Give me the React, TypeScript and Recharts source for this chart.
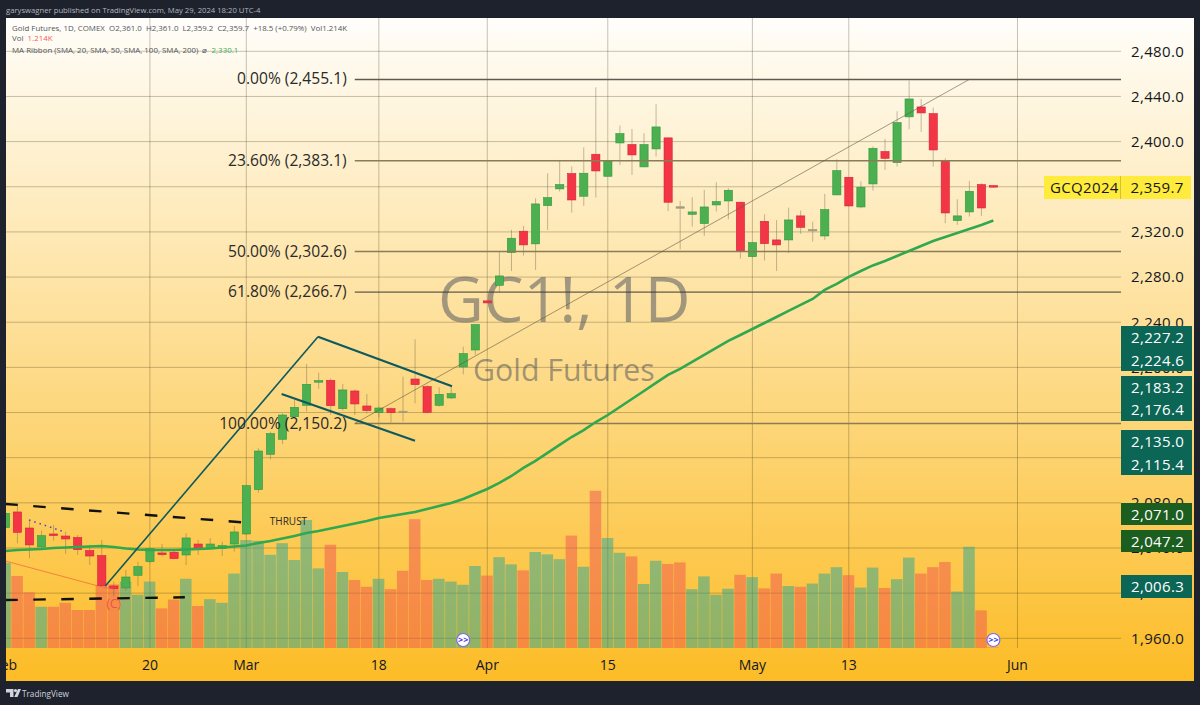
import { Bar, CartesianGrid, ComposedChart, Line, ReferenceDot, ReferenceLine, XAxis, YAxis } from 'recharts'

const opens = [
  2058.0, 2071.9, 2057.7, 2040.9, 2052.4, 2050.6, 2049.2, 2037.6, 2033.2, 2006.3,
  2004.6, 2015.8, 2027.9, 2035.6, 2036.2, 2033.8, 2043.5, 2040.6, 2039.7, 2043.5,
  2052.4, 2091.7, 2123.0, 2136.3, 2156.3, 2166.4, 2187.3, 2188.5, 2163.4, 2179.1,
  2165.8, 2159.9, 2163.4, 2161.2, 2189.7, 2182.9, 2166.4, 2172.9, 2200.4, 2215.4,
  2258.9, 2272.7, 2301.7, 2320.6, 2309.4, 2343.3, 2358.1, 2371.7, 2351.6, 2388.8,
  2369.3, 2398.8, 2397.4, 2377.6, 2393.5, 2403.3, 2342.3, 2335.6, 2327.4, 2343.9,
  2347.4, 2346.3, 2298.1, 2329.4, 2312.9, 2312.9, 2334.2, 2322.0, 2316.4, 2352.8,
  2368.4, 2342.1, 2362.5, 2391.2, 2381.4, 2421.9, 2430.7, 2424.8, 2382.9, 2330.0,
  2337.7, 2361.9, 2361.0,
]
const highs = [
  2079.6, 2079.6, 2064.8, 2055.3, 2060.4, 2054.5, 2051.5, 2042.7, 2047.1, 2010.2,
  2020.5, 2027.9, 2039.7, 2043.5, 2038.2, 2053.0, 2047.1, 2048.6, 2045.6, 2059.5,
  2095.8, 2128.3, 2143.0, 2159.3, 2171.1, 2203.0, 2195.3, 2190.3, 2185.3, 2180.6,
  2176.4, 2165.2, 2164.6, 2191.8, 2224.8, 2184.4, 2182.3, 2182.9, 2218.4, 2237.9,
  2259.0, 2302.6, 2321.8, 2325.3, 2349.8, 2372.0, 2383.8, 2377.9, 2395.0, 2448.1,
  2382.9, 2414.2, 2411.2, 2407.4, 2433.1, 2403.6, 2347.4, 2350.7, 2357.2, 2364.0,
  2358.7, 2346.6, 2311.0, 2335.6, 2330.6, 2341.5, 2338.9, 2329.1, 2353.6, 2384.4,
  2368.7, 2364.9, 2395.9, 2402.4, 2426.9, 2454.1, 2437.8, 2430.1, 2385.2, 2348.9,
  2365.2, 2363.1, 2361.0,
]
const lows = [
  2055.9, 2044.1, 2030.9, 2038.8, 2046.5, 2034.7, 2033.8, 2024.9, 2005.7, 1996.9,
  2002.2, 2006.3, 2026.4, 2032.3, 2030.0, 2024.9, 2033.8, 2038.8, 2032.9, 2036.7,
  2051.5, 2089.0, 2118.5, 2132.1, 2155.8, 2160.8, 2180.9, 2157.8, 2161.7, 2157.8,
  2159.3, 2155.8, 2151.0, 2151.9, 2168.1, 2159.3, 2165.2, 2172.0, 2193.8, 2211.0,
  2257.0, 2267.1, 2285.4, 2299.0, 2286.3, 2321.8, 2355.7, 2337.1, 2343.0, 2350.4,
  2369.0, 2379.3, 2370.5, 2377.3, 2386.7, 2338.3, 2304.6, 2324.7, 2316.4, 2338.0,
  2331.2, 2296.4, 2297.5, 2294.6, 2285.4, 2301.1, 2318.2, 2311.4, 2312.9, 2352.5,
  2342.7, 2340.9, 2356.6, 2374.9, 2377.9, 2411.0, 2408.6, 2377.9, 2327.7, 2326.2,
  2333.6, 2334.2, 2359.2,
]
const closes = [
  2070.7, 2053.9, 2042.7, 2050.9, 2051.5, 2048.0, 2038.5, 2032.9, 2006.6, 2004.0,
  2014.3, 2023.5, 2039.4, 2034.1, 2030.6, 2048.9, 2038.5, 2043.5, 2042.1, 2054.2,
  2095.2, 2125.9, 2141.3, 2157.8, 2164.6, 2185.0, 2188.2, 2166.1, 2180.0, 2167.6,
  2161.7, 2164.0, 2159.9, 2160.8, 2184.7, 2160.2, 2176.1, 2176.7, 2212.2, 2237.9,
  2257.1, 2281.0, 2314.4, 2308.5, 2344.8, 2350.4, 2361.9, 2348.3, 2372.0, 2374.0,
  2382.6, 2407.1, 2388.2, 2397.4, 2413.0, 2346.3, 2342.0, 2337.7, 2342.1, 2346.9,
  2356.9, 2302.6, 2310.5, 2309.6, 2308.5, 2330.6, 2324.1, 2322.2, 2339.8, 2374.3,
  2343.0, 2359.6, 2394.1, 2385.2, 2416.8, 2437.8, 2425.4, 2392.6, 2336.8, 2334.2,
  2356.0, 2341.2, 2359.7,
]
// thousands of contracts
const volumes = [
  213, 180, 139, 103, 103, 113, 95, 95, 158, 159,
  166, 133, 166, 99, 121, 173, 105, 122, 113, 186,
  270, 268, 233, 262, 220, 320, 199, 258, 190, 170,
  153, 173, 147, 193, 322, 170, 173, 166, 158, 205,
  181, 227, 209, 194, 240, 234, 222, 281, 203, 393,
  275, 238, 229, 160, 218, 210, 214, 147, 179, 133,
  148, 183, 177, 149, 186, 155, 153, 161, 186, 202,
  182, 151, 201, 150, 172, 226, 186, 202, 215, 141,
  253, 94, 1.214,
]
const ma50 = [
  2037.3, 2038.2, 2038.7, 2039.1, 2040.0, 2040.4, 2040.9, 2041.3, 2041.8, 2040.9,
  2039.6, 2038.7, 2038.2, 2038.2, 2038.2, 2038.7, 2039.1, 2039.6, 2040.4, 2041.3,
  2042.2, 2044.4, 2046.2, 2048.4, 2050.6, 2053.3, 2055.0, 2057.3, 2059.5, 2061.7,
  2063.9, 2066.6, 2068.3, 2070.1, 2071.9, 2074.5, 2077.2, 2079.9, 2083.4, 2087.8,
  2092.3, 2097.6, 2103.8, 2110.9, 2117.1, 2124.2, 2131.3, 2138.3, 2144.5, 2151.6,
  2157.8, 2164.9, 2172.0, 2179.1, 2186.2, 2193.3, 2198.6, 2204.8, 2211.0, 2217.2,
  2223.4, 2228.7, 2234.0, 2239.3, 2244.6, 2250.0, 2255.3, 2260.6, 2268.6, 2273.9,
  2280.1, 2285.4, 2290.3, 2294.2, 2298.7, 2303.1, 2307.5, 2312.0, 2315.5, 2319.0,
  2322.6, 2326.1, 2330.1,
]

const xTicks = [0, 12, 20, 31, 40, 50, 62, 70, 84]
const xTickLabels = ['Feb', '20', 'Mar', '18', 'Apr', '15', 'May', '13', 'Jun']
const priceTicks = [1960, 2000, 2040, 2080, 2120, 2160, 2200, 2240, 2280, 2320, 2360, 2400, 2440, 2480]
const fibLevels = [2455.1, 2383.1, 2302.6, 2266.7, 2150.2]
const fibLabels = ['0.00% (2,455.1)', '23.60% (2,383.1)', '50.00% (2,302.6)', '61.80% (2,266.7)', '100.00% (2,150.2)']

const tagTexts = ['2,227.2', '2,224.6', '2,183.2', '2,176.4', '2,135.0', '2,115.4', '2,071.0', '2,047.2', '2,006.3']
const tagTops = [326, 348.5, 376, 398, 430, 452.5, 502.5, 529.5, 575]
const tagColors = ['#0c6656', '#0c6656', '#0c6656', '#0c6656', '#0c6656', '#0c6656', '#1b5e20', '#1b5e20', '#0c6656']

const X_MAX = 92.59
const PRICE_MIN = 1951.4
const PRICE_MAX = 2509.5
const FONT = '"Open Sans", "Noto Sans", sans-serif'

const chartData = opens.map((open, i) => ({
  i,
  open,
  high: highs[i],
  low: lows[i],
  close: closes[i],
  volume: volumes[i],
  ma: ma50[i],
}))

function Candle(props: any) {
  const { x, y, width, height, payload } = props
  const { open, close, high, low } = payload
  const k = height / (high - low)
  const top = y + (high - Math.max(open, close)) * k
  const bodyH = Math.max(Math.abs(open - close) * k, 1.5)
  const cx = x + width / 2
  const gap = Math.abs(open - close)
  let fill = close >= open ? '#4caf50' : '#f23645'
  let stroke = close >= open ? '#2c9a3f' : '#d81e3a'
  if (gap < 0.5) {
    fill = '#a59a7c'
    stroke = '#a59a7c'
  }
  return (
    <g>
      <line x1={cx} x2={cx} y1={y} y2={y + height} stroke="rgba(110,100,75,0.42)" strokeWidth={1} />
      <rect x={x} y={top} width={width} height={bodyH} fill={fill} stroke={stroke} strokeWidth={0.6} />
    </g>
  )
}

function VolumeBar(props: any) {
  const { x, y, width, height, payload } = props
  const up = payload.close >= payload.open
  return <rect x={x} y={y} width={width} height={height} fill={up ? 'rgba(38,166,154,0.5)' : 'rgba(239,83,80,0.5)'} />
}

function XTick(props: any) {
  const { x, y, payload } = props
  const label = xTickLabels[xTicks.indexOf(payload.value)]
  const isMonth = label.length === 3
  return (
    <text x={x} y={y} dy={6} textAnchor="middle" fontFamily={FONT} fontSize={14} fontWeight={isMonth ? 500 : 400} fill="#131722">
      {label}
    </text>
  )
}

function fibLabel(text: string) {
  return (props: any) => (
    <text x={props.cx - 8} y={props.cy + 5} textAnchor="end" fontFamily={FONT} fontSize={15.6} fill="#2a2a2a">
      {text}
    </text>
  )
}

function noteLabel(text: string, color: string, size: number) {
  return (props: any) => (
    <text x={props.cx} y={props.cy + 4} textAnchor="middle" fontFamily={FONT} fontSize={size} fill={color}>
      {text}
    </text>
  )
}

function SessionIcon(props: any) {
  return (
    <g>
      <circle cx={props.cx} cy={props.cy} r={6.5} fill="#fff" stroke="#7a6cf0" strokeWidth={1.2} />
      <text x={props.cx} y={props.cy + 3} textAnchor="middle" fontFamily={FONT} fontSize={9} fontWeight={700} fill="#4a3bdc">
        {'>>'}
      </text>
    </g>
  )
}

const axisIds = { xAxisId: 'main', yAxisId: 'price' }

export default function App() {
  return (
    <div style={{ position: 'absolute', left: 0, top: 0, width: 1200, height: 705, background: '#1e222d', overflow: 'hidden', fontFamily: FONT }}>
      <div style={{ position: 'absolute', left: 6, top: 18, width: 1188, height: 663, background: 'linear-gradient(#fffefb, #fcbc26)' }} />

      <div style={{ position: 'absolute', left: 438, top: 255, fontSize: 63, lineHeight: '86px', color: 'rgba(70,75,90,0.5)', whiteSpace: 'nowrap' }}>
        GC1!, 1D
      </div>
      <div style={{ position: 'absolute', left: 473, top: 349, fontSize: 30.3, lineHeight: '42px', color: 'rgba(70,75,90,0.5)', whiteSpace: 'nowrap' }}>
        Gold Futures
      </div>

      <div style={{ position: 'absolute', left: 0, top: 0 }}>
        <ComposedChart width={1200} height={705} data={chartData} margin={{ top: 18, right: 6, bottom: 24, left: 5.3 }}>
          <CartesianGrid xAxisId="main" yAxisId="price" syncWithTicks stroke="rgba(70,60,30,0.3)" strokeWidth={1} />
          <XAxis
            xAxisId="main"
            dataKey="i"
            type="number"
            domain={[0, X_MAX]}
            allowDataOverflow
            ticks={xTicks}
            interval={0}
            height={33}
            axisLine={false}
            tickLine={false}
            tick={<XTick />}
            tickMargin={10}
          />
          <XAxis xAxisId="vol" dataKey="i" type="number" domain={[0, X_MAX]} allowDataOverflow hide />
          <YAxis
            yAxisId="price"
            orientation="right"
            type="number"
            domain={[PRICE_MIN, PRICE_MAX]}
            allowDataOverflow
            ticks={priceTicks}
            interval={0}
            width={73}
            axisLine={false}
            tickLine={false}
            tickSize={0}
            tickMargin={10}
            tick={{ fontFamily: FONT, fontSize: 15, letterSpacing: 0.35, fill: '#131722' }}
            tickFormatter={(v: number) => v.toLocaleString('en-US', { minimumFractionDigits: 1 })}
          />
          <YAxis yAxisId="vol" orientation="left" type="number" domain={[0, 1575]} hide />

          <Bar xAxisId="vol" yAxisId="vol" dataKey="volume" barSize={11.5} shape={<VolumeBar />} isAnimationActive={false} />

          {fibLevels.map((level, n) => (
            <ReferenceLine
              key={level}
              {...axisIds}
              ifOverflow="visible"
              segment={[{ x: 29, y: level }, { x: X_MAX, y: level }]}
              stroke={n === 3 ? '#3a3a34' : n === 0 ? '#5f5a50' : '#8a7d55'}
              strokeWidth={n === 3 ? 1 : 1.5}
            />
          ))}
          {fibLevels.map((level, n) => (
            <ReferenceDot key={level} {...axisIds} x={29} y={level} ifOverflow="visible" shape={fibLabel(fibLabels[n])} />
          ))}
          <ReferenceLine {...axisIds} ifOverflow="visible" segment={[{ x: 29, y: 2150.2 }, { x: 80, y: 2455.1 }]} stroke="rgba(100,90,65,0.6)" strokeWidth={1} />

          <ReferenceLine {...axisIds} ifOverflow="visible" segment={[{ x: 0, y: 2079.0 }, { x: 19.6, y: 2062.8 }]} stroke="#111" strokeWidth={2.4} strokeDasharray="12.5 15.5" />
          <ReferenceLine {...axisIds} ifOverflow="visible" segment={[{ x: 0, y: 1993.9 }, { x: 14.9, y: 1996.3 }]} stroke="#111" strokeWidth={2.4} strokeDasharray="12.5 15.5" />
          <ReferenceLine {...axisIds} ifOverflow="visible" segment={[{ x: 0, y: 2028.5 }, { x: 8, y: 2005.5 }]} stroke="rgba(240,100,60,0.7)" strokeWidth={1} />
          <ReferenceLine {...axisIds} ifOverflow="visible" segment={[{ x: 8, y: 2005.5 }, { x: 9, y: 2003.5 }]} stroke="rgba(240,100,60,0.7)" strokeWidth={1} />
          <ReferenceLine {...axisIds} ifOverflow="visible" segment={[{ x: 1.97, y: 2064.8 }, { x: 4.95, y: 2054.2 }]} stroke="#5b3fd6" strokeWidth={1.6} strokeDasharray="1.5 4" />

          <Line {...axisIds} dataKey="ma" type="linear" stroke="#2fa84f" strokeWidth={2.6} dot={false} isAnimationActive={false} />
          <Bar {...axisIds} dataKey={(d: any) => [d.low, d.high]} barSize={8.2} shape={<Candle />} isAnimationActive={false} />

          <ReferenceLine {...axisIds} ifOverflow="visible" segment={[{ x: 8.3, y: 2006.3 }, { x: 25.95, y: 2227.2 }]} stroke="#0c5a60" strokeWidth={1.6} />
          <ReferenceLine {...axisIds} ifOverflow="visible" segment={[{ x: 25.95, y: 2227.2 }, { x: 37.07, y: 2183.2 }]} stroke="#0c5a60" strokeWidth={2.2} />
          <ReferenceLine {...axisIds} ifOverflow="visible" segment={[{ x: 22.93, y: 2176.4 }, { x: 34, y: 2135.0 }]} stroke="#0c5a60" strokeWidth={2.2} />

          <ReferenceDot {...axisIds} x={23.5} y={2064} ifOverflow="visible" shape={noteLabel('THRUST', '#2a2a2a', 10)} />
          <ReferenceDot {...axisIds} x={9} y={1990} ifOverflow="visible" shape={noteLabel('(C)', 'rgba(239,70,70,0.9)', 12)} />
          <ReferenceDot {...axisIds} x={38} y={1958.5} ifOverflow="visible" shape={<SessionIcon />} />
          <ReferenceDot {...axisIds} x={82} y={1958.5} ifOverflow="visible" shape={<SessionIcon />} />
        </ComposedChart>
      </div>

      <div style={{ position: 'absolute', left: 0, top: 0, width: 6, height: 705, background: '#1e222d' }} />

      <div style={{ position: 'absolute', left: 6, top: 3, fontSize: 7.7, lineHeight: '14px', color: '#b2b5be', whiteSpace: 'nowrap' }}>
        garyswagner published on TradingView.com, May 29, 2024 18:20 UTC-4
      </div>
      <div style={{ position: 'absolute', left: 12, top: 21.5, fontSize: 7.9, lineHeight: '13px', color: '#55565a', whiteSpace: 'pre' }}>
        {'Gold Futures, 1D, COMEX  O2,361.0  H2,361.0  L2,359.2  C2,359.7  +18.5 (+0.79%)  Vol1.214K'}
      </div>
      <div style={{ position: 'absolute', left: 12, top: 32, fontSize: 7.9, lineHeight: '13px', color: '#55565a', whiteSpace: 'pre' }}>
        {'Vol  '}<span style={{ color: '#f0605c' }}>1.214K</span>
      </div>
      <div style={{ position: 'absolute', left: 12, top: 43.5, fontSize: 7.9, lineHeight: '13px', color: '#55565a', whiteSpace: 'pre' }}>
        {'MA Ribbon (SMA, 20, SMA, 50, SMA, 100, SMA, 200)  ⌀  '}<span style={{ color: '#3fae55' }}>2,330.1</span>
      </div>

      <div style={{ position: 'absolute', left: 1044, top: 176, width: 147, height: 23, background: '#ffeb3b', display: 'flex', fontSize: 15, letterSpacing: 0.35, lineHeight: '23px', color: '#131722' }}>
        <span style={{ width: 76.5, paddingLeft: 6, boxSizing: 'border-box', borderRight: '1px solid #d8c030' }}>GCQ2024</span>
        <span style={{ paddingLeft: 10 }}>2,359.7</span>
      </div>
      {tagTexts.map((text, n) => (
        <div
          key={text}
          style={{ position: 'absolute', left: 1121, top: tagTops[n], width: 70.5, height: 22.5, background: tagColors[n], color: '#fff', fontSize: 15, letterSpacing: 0.35, lineHeight: '22.5px', paddingLeft: 10, boxSizing: 'border-box' }}
        >
          {text}
        </div>
      ))}

      <svg style={{ position: 'absolute', left: 6, top: 688 }} width={15} height={10}>
        <path d="M0 1H7.5V9H4V4.5H0Z M12 1H15L11.5 9H8.2Z" fill="#d1d4dc" />
        <circle cx={9.5} cy={2.6} r={1.6} fill="#d1d4dc" />
      </svg>
      <div style={{ position: 'absolute', left: 22, top: 686.5, fontSize: 8.2, fontWeight: 500, lineHeight: '13px', color: '#d1d4dc' }}>TradingView</div>
    </div>
  )
}
